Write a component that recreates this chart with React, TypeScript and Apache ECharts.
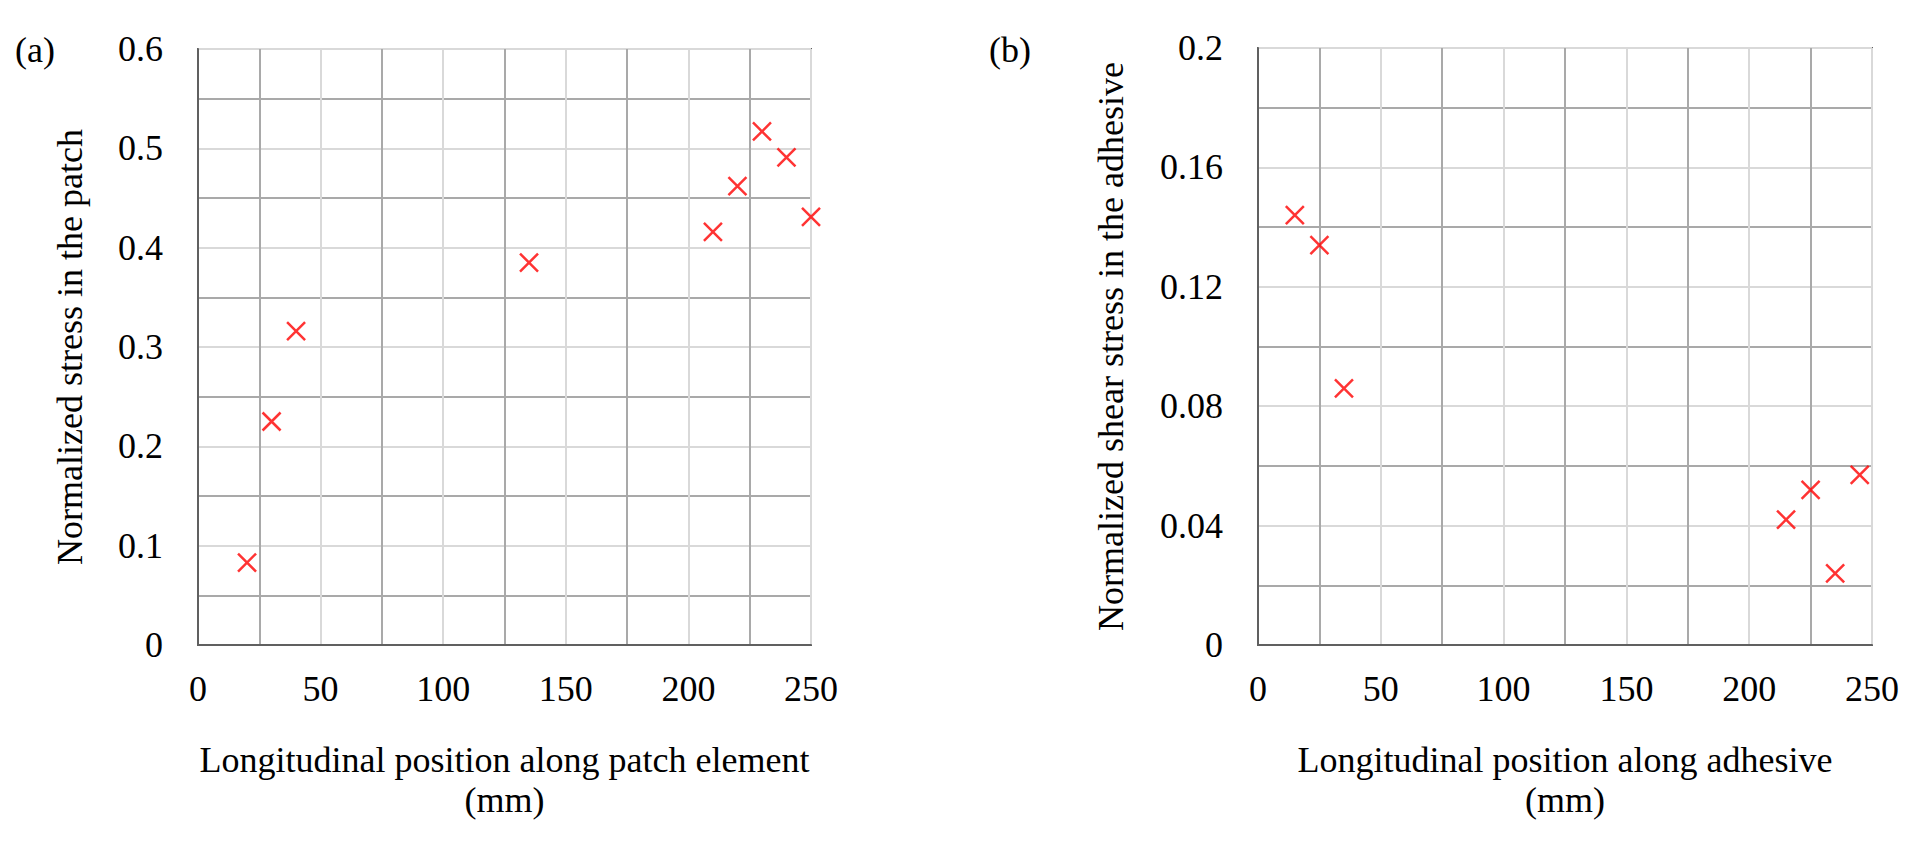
import React, { useEffect, useRef } from "react";
import * as echarts from "echarts";

// Panel (a): normalized stress in the patch
const patchX = [20, 30, 40, 135, 210, 220, 230, 240, 250];
const patchY = [0.083, 0.225, 0.316, 0.385, 0.416, 0.462, 0.517, 0.491, 0.431];

// Panel (b): normalized shear stress in the adhesive
const adhX = [15, 25, 35, 215, 225, 235, 245];
const adhY = [0.144, 0.134, 0.086, 0.042, 0.052, 0.024, 0.057];

const xAxisRange = { min: 0, max: 250, interval: 50 };
const yAxisRangeA = { min: 0, max: 0.6, interval: 0.1 };
const yAxisRangeB = { min: 0, max: 0.2, interval: 0.04 };

const titles = {
  panelA: "(a)",
  panelB: "(b)",
  xA: "Longitudinal position along patch element\n(mm)",
  xB: "Longitudinal position along adhesive\n(mm)",
  yA: "Normalized stress in the patch",
  yB: "Normalized shear stress in the adhesive",
};

const FONT = "'Liberation Serif', 'Times New Roman', serif";
const FS = 36;
const AXIS_DARK = "#606060";
const GRID_LIGHT = "#d9d9d9";
const GRID_DARK = "#a9a9a9";
const CROSS = "path://M0,0L10,10M10,0L0,10";

function fmt(v: number) {
  return String(parseFloat(v.toFixed(2)));
}

function xAxisFor(gridIndex: number, name: string) {
  return {
    type: "value",
    gridIndex,
    ...xAxisRange,
    name,
    nameLocation: "middle",
    nameGap: 95,
    nameTextStyle: { fontFamily: FONT, fontSize: FS, color: "#000", lineHeight: 40 },
    axisLine: { show: true, lineStyle: { color: AXIS_DARK, width: 2 } },
    axisTick: { show: false },
    axisLabel: { fontFamily: FONT, fontSize: FS, color: "#000", margin: 26, formatter: fmt },
    splitLine: { show: true, lineStyle: { color: GRID_LIGHT, width: 2 } },
    minorTick: { show: false, splitNumber: 2 },
    minorSplitLine: { show: true, lineStyle: { color: GRID_DARK, width: 2 } },
  };
}

function yAxisFor(gridIndex: number, name: string, range: any, nameGap: number) {
  return {
    type: "value",
    gridIndex,
    ...range,
    name,
    nameLocation: "middle",
    nameGap,
    nameTextStyle: { fontFamily: FONT, fontSize: FS, color: "#000" },
    axisLine: { show: true, lineStyle: { color: AXIS_DARK, width: 2 } },
    axisTick: { show: false },
    axisLabel: { fontFamily: FONT, fontSize: FS, color: "#000", margin: 35, formatter: fmt },
    splitLine: { show: true, lineStyle: { color: GRID_LIGHT, width: 2 } },
    minorTick: { show: false, splitNumber: 2 },
    minorSplitLine: { show: true, lineStyle: { color: GRID_DARK, width: 2 } },
  };
}

function scatterFor(idx: number, xs: number[], ys: number[]) {
  return {
    type: "scatter",
    xAxisIndex: idx,
    yAxisIndex: idx,
    data: xs.map((x, i) => [x, ys[i]]),
    symbol: CROSS,
    symbolSize: 18,
    clip: false,
    itemStyle: { color: "rgba(0,0,0,0)", borderColor: "#ff0000", borderWidth: 2.5 },
    z: 5,
  };
}

export default function App() {
  const ref = useRef<HTMLDivElement>(null);

  useEffect(() => {
    document.body.style.margin = "0";
    if (!ref.current) return;
    const chart = echarts.init(ref.current, undefined, { renderer: "svg" });
    chart.setOption({
      animation: false,
      backgroundColor: "#ffffff",
      grid: [
        {
          left: 198, top: 49, width: 613, height: 596,
          show: true, borderColor: AXIS_DARK, borderWidth: 2, backgroundColor: "transparent",
        },
        {
          left: 1258, top: 48, width: 614, height: 597,
          show: true, borderColor: AXIS_DARK, borderWidth: 2, backgroundColor: "transparent",
        },
      ],
      xAxis: [xAxisFor(0, titles.xA), xAxisFor(1, titles.xB)],
      yAxis: [
        yAxisFor(0, titles.yA, yAxisRangeA, 110),
        yAxisFor(1, titles.yB, yAxisRangeB, 129),
      ],
      series: [scatterFor(0, patchX, patchY), scatterFor(1, adhX, adhY)],
      graphic: [
        {
          type: "text", left: 15, top: 32,
          style: { text: titles.panelA, fontFamily: FONT, fontSize: FS, fill: "#000" },
        },
        {
          type: "text", left: 989, top: 32,
          style: { text: titles.panelB, fontFamily: FONT, fontSize: FS, fill: "#000" },
        },
      ],
    });
    return () => chart.dispose();
  }, []);

  return <div ref={ref} style={{ width: 1912, height: 842 }} />;
}
